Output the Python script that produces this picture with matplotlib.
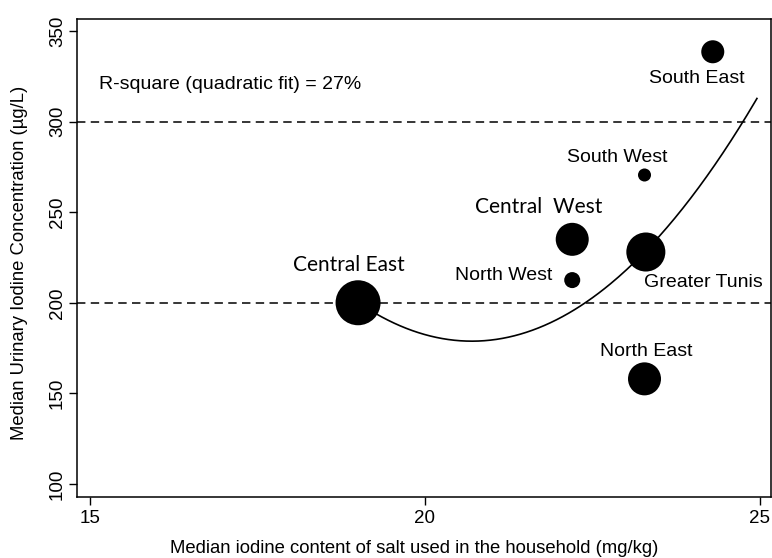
import numpy as np
import matplotlib.pyplot as plt

plt.rcParams['font.family'] = ['Liberation Sans', 'DejaVu Sans']

regions = ['Central East', 'Central  West', 'Greater Tunis', 'South West',
           'South East', 'North West', 'North East']
salt_iodine = [19.0, 22.2, 23.3, 23.28, 24.3, 22.2, 23.28]
urinary_iodine = [200, 235, 228, 270.5, 338.5, 212.5, 158]
bubble_size = [1050, 565, 790, 88, 275, 133, 565]

# quadratic fit y = a*(x - h)^2 + k
fit_a, fit_h, fit_k = 7.38, 20.7, 178.8
fit_range = (19.0, 24.96)

label_pos = {
    'Central East': (18.87, 220.7),
    'Central  West': (21.70, 252.8),
    'Greater Tunis': (24.16, 211.3),
    'South West': (22.88, 280.4),
    'South East': (24.06, 323.5),
    'North West': (21.18, 215.2),
    'North East': (23.31, 173.2),
}

fig = plt.figure(figsize=(7.72, 5.58), dpi=100)
ax = fig.add_axes([0.0997, 0.1093, 0.8990, 0.8567])

ax.axhline(200, color='black', lw=1.1, dashes=(5.5, 3.5), zorder=1)
ax.axhline(300, color='black', lw=1.1, dashes=(5.5, 3.5), zorder=1)

xs = np.linspace(fit_range[0], fit_range[1], 200)
ax.plot(xs, fit_a * (xs - fit_h) ** 2 + fit_k, color='black', lw=1.2, zorder=2)

ax.scatter(salt_iodine, urinary_iodine, s=bubble_size, color='black',
           edgecolors='none', zorder=3)

for name in regions:
    lx, ly = label_pos[name]
    if name.startswith('Central'):
        ax.text(lx, ly, name, ha='center', va='center', fontsize=15,
                family=['Lato', 'DejaVu Sans'])
    else:
        ax.text(lx, ly, name, ha='center', va='center', fontsize=14)

ax.text(15.13, 320.2, 'R-square (quadratic fit) = 27%', ha='left', va='center',
        fontsize=14)

ax.set_xlim(14.8, 25.17)
ax.set_ylim(92.8, 356.6)
ax.set_xticks([15, 20, 25])
ax.set_yticks([100, 150, 200, 250, 300, 350])
ax.tick_params(axis='both', labelsize=13.5, length=6, width=1, direction='out')
ax.tick_params(axis='y', pad=2)
for lab in ax.get_yticklabels():
    lab.set_rotation(90)
    lab.set_va('center')
for sp in ax.spines.values():
    sp.set_linewidth(1.1)

ax.set_xlabel('Median iodine content of salt used in the household (mg/kg)',
              fontsize=13.3, va='center')
ax.set_ylabel('Median Urinary Iodine Concentration (µg/L)', fontsize=13.3,
              va='center')
ax.xaxis.set_label_coords(0.4856, -0.107)
ax.yaxis.set_label_coords(-0.083, 0.49)

fig.savefig('out.png', dpi=100)
